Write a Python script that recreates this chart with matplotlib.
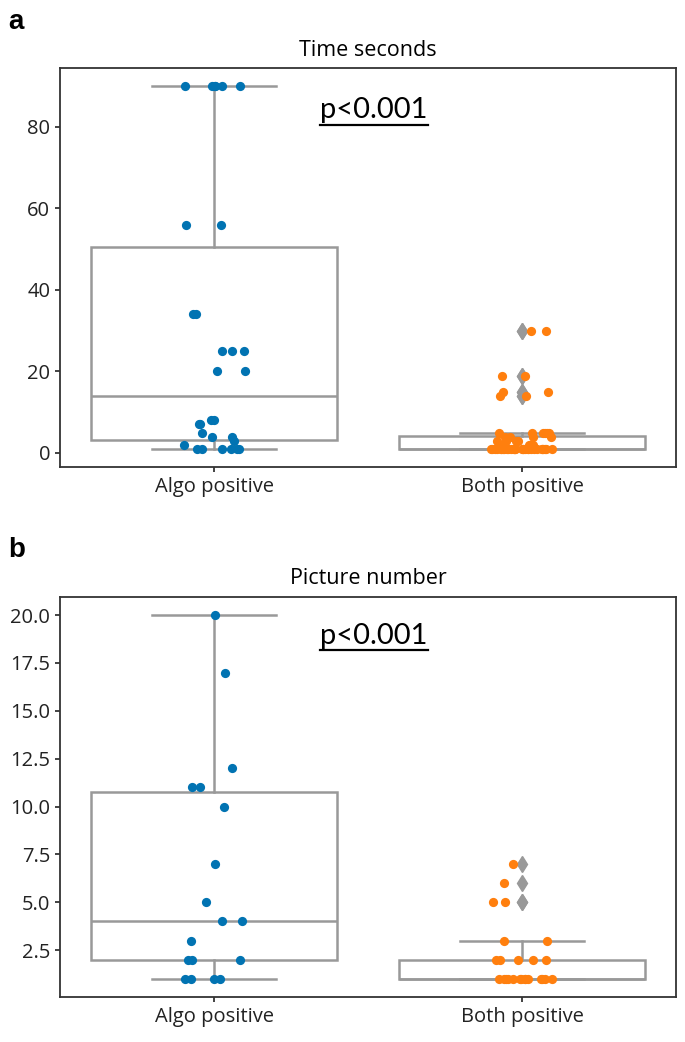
import matplotlib
matplotlib.use("Agg")
import matplotlib.pyplot as plt
import numpy as np

plt.rcParams['font.family'] = ['Open Sans', 'DejaVu Sans']

groups = ['Algo positive', 'Both positive']

# panel a: time in seconds
time_algo = [1, 1, 1, 1, 1, 1, 2, 3, 4, 4, 5, 7, 7, 8, 8,
             20, 20, 25, 25, 25, 34, 34, 56, 56, 90, 90, 90, 90, 90, 90]
time_both = [1, 1, 1, 1, 1, 1, 1, 1, 1, 1, 1, 1, 1, 1, 1,
             1, 1, 1, 1, 1, 1, 1, 1, 1, 1, 1, 1, 1, 1, 1,
             2, 2, 2, 2, 3, 3, 3, 3, 4, 4, 4, 4, 5, 5, 5, 5, 5, 5,
             14, 14, 15, 15, 19, 19, 30, 30]

# panel b: picture number
pics_algo = [1, 1, 1, 1, 2, 2, 2, 3, 4, 4, 5, 7, 10, 11, 11, 12, 17, 20]
pics_both = [1, 1, 1, 1, 1, 1, 1, 1, 1, 1, 1, 1, 1, 1,
             2, 2, 2, 2, 2, 3, 3, 5, 5, 6, 7]

time_ticks = [0, 20, 40, 60, 80]
pics_ticks = [2.5, 5.0, 7.5, 10.0, 12.5, 15.0, 17.5, 20.0]

colors = ['#0173b2', '#ff7f0e']
GRAY = '#999999'


def box_strip(ax, data, seed):
    box_kw = dict(color=GRAY, linewidth=1.8)
    ax.boxplot(data, positions=[0, 1], widths=0.8, whis=1.5,
               patch_artist=True,
               boxprops=dict(facecolor='white', edgecolor=GRAY, linewidth=1.8),
               medianprops=box_kw, whiskerprops=box_kw, capprops=box_kw,
               flierprops=dict(marker='d', markerfacecolor=GRAY,
                               markeredgecolor=GRAY, markersize=8))
    rng = np.random.default_rng(seed)
    for i, vals in enumerate(data):
        jit = rng.uniform(-0.1, 0.1, len(vals))
        ax.scatter(i + jit, vals, s=44, color=colors[i], zorder=3,
                   linewidths=0)
    ax.set_xlim(-0.5, 1.5)
    ax.set_xticks([0, 1])
    ax.set_xticklabels(groups)
    ax.tick_params(labelsize=14.5, colors='#222222', width=1.2)
    for sp in ax.spines.values():
        sp.set_color('#333333')
        sp.set_linewidth(1.3)


def p_label(fig, ax, y):
    t = ax.text(0.51, y, 'p<0.001', transform=ax.transAxes, ha='center',
                va='center', fontsize=21, family=['Lato', 'DejaVu Sans'])
    fig.canvas.draw()
    bb = t.get_window_extent().transformed(ax.transAxes.inverted())
    ax.plot([bb.x0, bb.x1], [bb.y0 - 0.004, bb.y0 - 0.004], color='black',
            lw=1.6, transform=ax.transAxes, clip_on=False)


fig = plt.figure(figsize=(6.85, 10.42), dpi=100)
ax1 = fig.add_axes([0.0876, 0.5518, 0.8994, 0.3829])
ax2 = fig.add_axes([0.0876, 0.0432, 0.8994, 0.3839])

box_strip(ax1, [time_algo, time_both], 7)
ax1.set_yticks(time_ticks)
ax1.set_title('Time seconds', fontsize=15.5, pad=9)

box_strip(ax2, [pics_algo, pics_both], 11)
ax2.set_yticks(pics_ticks)
ax2.set_yticklabels([f'{v:.1f}' for v in pics_ticks])
ax2.set_title('Picture number', fontsize=15.5, pad=9)

fig.text(0.012, 0.979, 'a', fontsize=20, fontweight='bold',
         family=['Liberation Sans', 'DejaVu Sans'], va='center')
fig.text(0.012, 0.472, 'b', fontsize=20, fontweight='bold',
         family=['Liberation Sans', 'DejaVu Sans'], va='center')

p_label(fig, ax1, 0.895)
p_label(fig, ax2, 0.903)

fig.savefig('out.png', dpi=100)
